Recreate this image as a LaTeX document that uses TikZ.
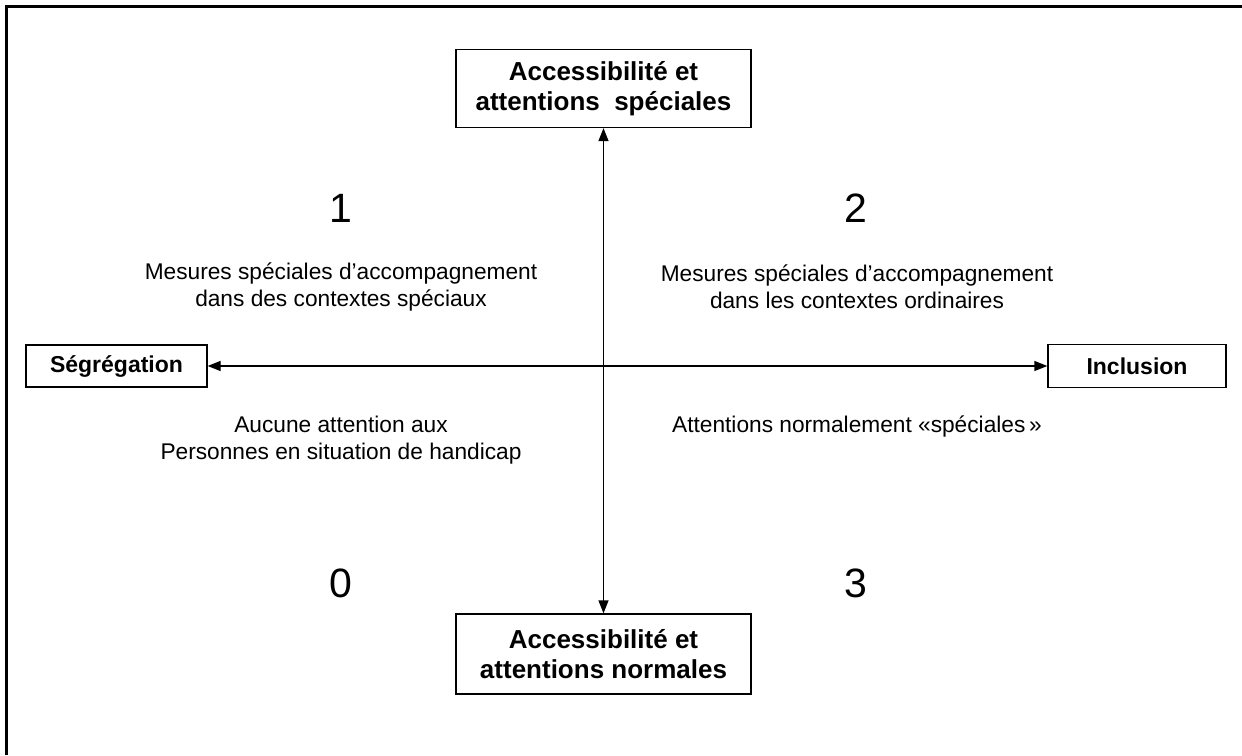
\documentclass[tikz,border=0pt]{standalone}
\usepackage{fontspec}
\setmainfont{Liberation Sans}
\usetikzlibrary{arrows.meta}
\begin{document}
\begin{tikzpicture}[x=1pt,y=-1pt,
  axisbox/.style={draw,line width=1.3pt,align=center,inner sep=0pt,
    font=\fontsize{23}{28}\selectfont\bfseries},
  bigbox/.style={axisbox,minimum width=295pt,font=\fontsize{26}{30}\selectfont\bfseries},
  quadnum/.style={font=\fontsize{41}{41}\selectfont},
  quadtext/.style={align=center,font=\fontsize{22.7}{27}\selectfont},
  axis/.style={line width=1.3pt,{Triangle[length=13pt,width=10pt]}-{Triangle[length=13pt,width=10pt]}}]
\useasboundingbox (0,0) rectangle (1242,755);
% frame along the top and left edges
\draw[line width=3pt] (6.5,755) -- (6.5,6) -- (1242,6);
% axis end boxes
\node[bigbox,minimum height=78pt] (top) at (603.5,88.5)
  {Accessibilité et\\attentions\ \ spéciales};
\node[bigbox,minimum height=80pt] (bottom) at (603.5,654)
  {Accessibilité et\\attentions normales};
\node[axisbox,minimum width=181pt,minimum height=42pt] (seg) at (116.5,366)
  {Ségrégation};
\node[axisbox,minimum width=178pt,minimum height=43pt] (incl) at (1137,366)
  {Inclusion};
% axes
\draw[axis] (top.south) -- (bottom.north);
\draw[axis] (seg.east) -- (incl.west);
% quadrant numbers
\node[quadnum] (n1) at (341,208) {1};
\node[quadnum] (n2) at (856,208) {2};
\node[quadnum] (n0) at (341,583) {0};
\node[quadnum] (n3) at (856,583) {3};
% quadrant descriptions
\node[quadtext] (q1) at (341,287) {Mesures spéciales d’accompagnement\\dans des contextes spéciaux};
\node[quadtext] (q2) at (857,287) {Mesures spéciales d’accompagnement\\dans les contextes ordinaires};
\node[quadtext] (q0) at (341,440) {Aucune attention aux\\Personnes en situation de handicap};
\node[quadtext] (q3) at (857,426) {Attentions normalement «spéciales\,»};
\end{tikzpicture}
\end{document}
